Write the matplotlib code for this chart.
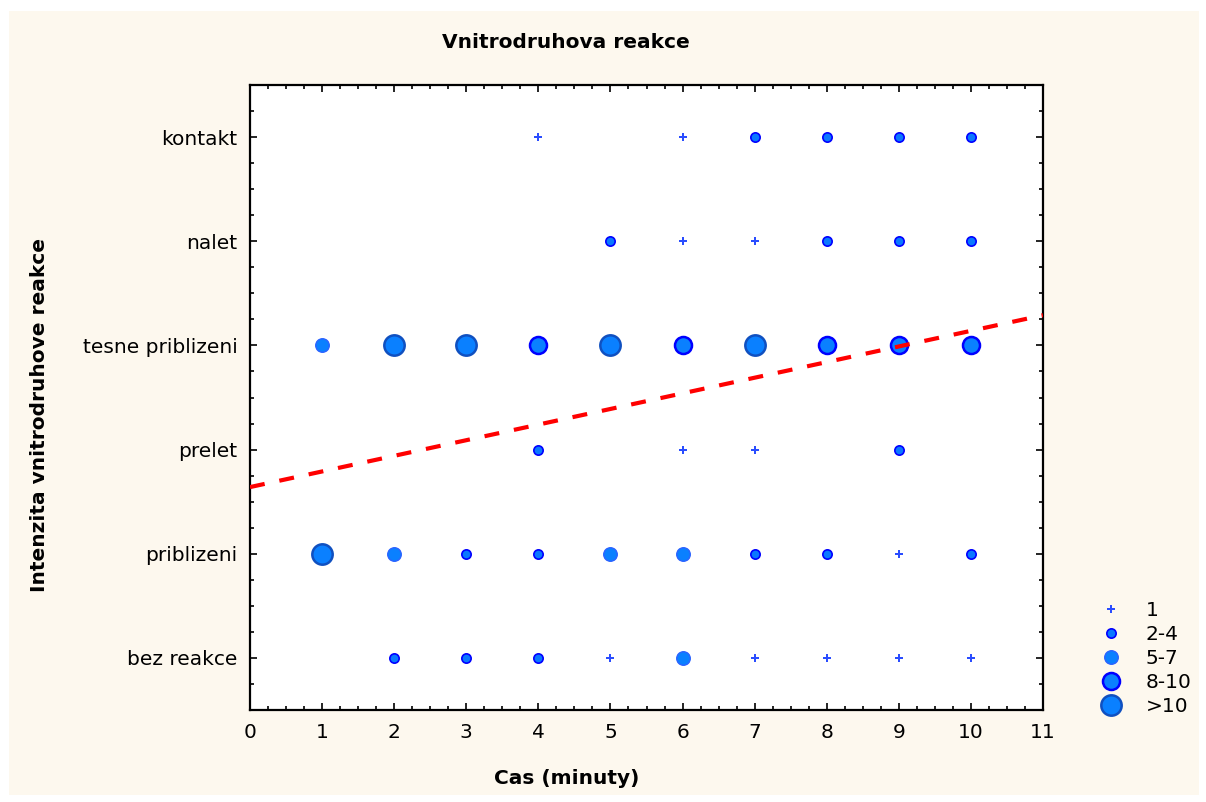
import numpy as np
import matplotlib
matplotlib.use("Agg")
import matplotlib.pyplot as plt
from matplotlib.patches import Rectangle
from matplotlib.ticker import MultipleLocator
from matplotlib.lines import Line2D

plt.rcParams['font.family'] = ['DejaVu Sans']

# categories from bottom (1) to top (6)
categories = ["bez reakce", "priblizeni", "prelet", "tesne priblizeni", "nalet", "kontakt"]

# size classes: 0 = "1", 1 = "2-4", 2 = "5-7", 3 = "8-10", 4 = ">10"
class_labels = ["1", "2-4", "5-7", "8-10", ">10"]

bez_reakce_t = [2, 3, 4, 5, 6, 7, 8, 9, 10]
bez_reakce_c = [1, 1, 1, 0, 2, 0, 0, 0, 0]
priblizeni_t = [1, 2, 3, 4, 5, 6, 7, 8, 9, 10]
priblizeni_c = [4, 2, 1, 1, 2, 2, 1, 1, 0, 1]
prelet_t = [4, 6, 7, 9]
prelet_c = [1, 0, 0, 1]
tesne_t = [1, 2, 3, 4, 5, 6, 7, 8, 9, 10]
tesne_c = [2, 4, 4, 3, 4, 3, 4, 3, 3, 3]
nalet_t = [5, 6, 7, 8, 9, 10]
nalet_c = [1, 0, 0, 1, 1, 1]
kontakt_t = [4, 6, 7, 8, 9, 10]
kontakt_c = [0, 0, 1, 1, 1, 1]

# regression line (intensity vs time)
fit_intercept = 2.64
fit_slope = 0.15

# marker styles per class
m_shape = ["P", "o", "o", "o", "o"]
m_size = [34, 45, 95, 150, 215]
m_face = ["#2a4dff", "#0a78ff", "#0a80ff", "#0a80ff", "#0a80ff"]
m_edge = ["#2a4dff", "#0000ff", "#2a62ff", "#0000ff", "#1050c0"]
m_lw = [0.0, 1.2, 1.0, 1.8, 1.8]

fig = plt.figure(figsize=(12.06, 8.02), dpi=100)
fig.patch.set_facecolor("white")
fig.add_artist(Rectangle((9 / 1206, 7 / 802), 1190 / 1206, 784 / 802,
                         transform=fig.transFigure, facecolor="#fdf8ee",
                         edgecolor="none", zorder=-10))

ax = fig.add_axes([250 / 1206, 1 - 710 / 802, 793 / 1206, 625 / 802])
ax.set_facecolor("white")

rows = [(bez_reakce_t, bez_reakce_c), (priblizeni_t, priblizeni_c),
        (prelet_t, prelet_c), (tesne_t, tesne_c),
        (nalet_t, nalet_c), (kontakt_t, kontakt_c)]
for i, (ts, cs) in enumerate(rows):
    for t, c in zip(ts, cs):
        ax.scatter(t, i + 1, marker=m_shape[c], s=m_size[c], c=m_face[c],
                   edgecolors=m_edge[c], linewidths=m_lw[c], zorder=3)

xs = np.array([0, 11])
ax.plot(xs, fit_intercept + fit_slope * xs, color="red", lw=3.0,
        dashes=(3.6, 3.6), zorder=4)

ax.set_xlim(0, 11)
ax.set_ylim(0.5, 6.5)
ax.xaxis.set_major_locator(MultipleLocator(1))
ax.xaxis.set_minor_locator(MultipleLocator(0.25))
ax.set_yticks(range(1, 7))
ax.set_yticklabels(categories)
ax.yaxis.set_minor_locator(MultipleLocator(0.25))
ax.tick_params(which="both", direction="in", top=True, right=True,
               labelsize=14.5, color="black")
ax.tick_params(which="major", length=5, width=1.2, pad=9)
ax.tick_params(which="minor", length=3, width=1.2)
for sp in ax.spines.values():
    sp.set_linewidth(1.6)

fig.text(566 / 1206, 1 - 42 / 802, "Vnitrodruhova reakce", ha="center",
         va="center", fontsize=14.5, fontweight="bold")
fig.text(567 / 1206, 1 - 778 / 802, "Cas (minuty)", ha="center",
         va="center", fontsize=14.5, fontweight="bold")
fig.text(40 / 1206, 1 - 415 / 802, "Intenzita vnitrodruhove reakce",
         ha="center", va="center", rotation=90, fontsize=14.5, fontweight="bold")

handles = [Line2D([], [], ls="none", marker=m_shape[k],
                  markersize=np.sqrt(m_size[k]), markerfacecolor=m_face[k],
                  markeredgecolor=m_edge[k], markeredgewidth=m_lw[k])
           for k in range(5)]
fig.legend(handles, class_labels, loc="upper left",
           bbox_to_anchor=(1083 / 1206, 1 - 593 / 802), frameon=False,
           fontsize=14.5, handletextpad=0.7, labelspacing=0.25,
           borderaxespad=0)

fig.savefig("out.png", dpi=100, facecolor=fig.get_facecolor())
